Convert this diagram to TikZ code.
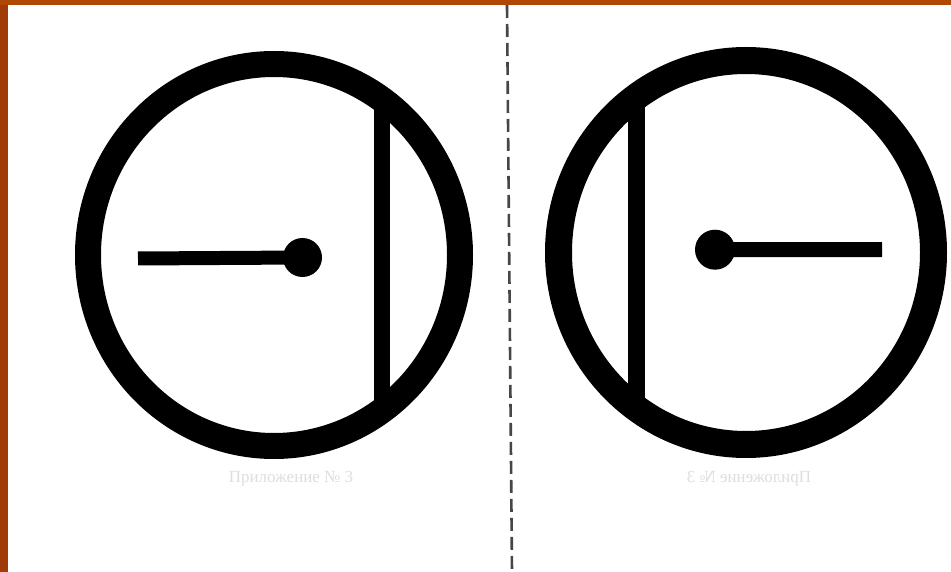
\documentclass[tikz,border=0pt]{standalone}
\usepackage{fontspec}
\setmainfont{Liberation Serif}
\usetikzlibrary{shapes.geometric}
\definecolor{frameL}{RGB}{160,58,6}
\definecolor{frameT}{RGB}{176,72,4}
\definecolor{dashcol}{RGB}{70,70,70}
\definecolor{ghost}{RGB}{222,222,222}
\tikzset{
  ring/.style={draw=black, ellipse, inner sep=0pt, fill=none},
  dotnode/.style={circle, fill=black, inner sep=0pt, minimum size=39pt},
  barline/.style={draw=black, line cap=butt},
  cutline/.style={draw=dashcol, line width=2.6pt, dash pattern=on 13pt off 6pt},
  ghosttext/.style={text=ghost, font=\fontsize{17}{17}\selectfont}
}
\begin{document}
\begin{tikzpicture}[x=1pt,y=-1pt]
\useasboundingbox (0,0) rectangle (951,572);
\fill[white] (0,0) rectangle (951,572);
% frame
\fill[frameL] (0,0) rectangle (8,572);
\fill[frameT] (0,0) rectangle (951,5);
% faint bleed-through labels
\node[ghosttext] (gl) at (291,479) {Приложение № 3};
\node[ghosttext, xscale=-1] (gr) at (749,479) {Приложение № 3};
% dashed cut line
\coordinate (dtop) at (507,5);
\coordinate (dbot) at (512,572);
\draw[cutline] (dtop) -- (dbot);
% left symbol
\node[ring, line width=26pt, minimum width=372pt, minimum height=382pt] (ringL) at (274,255) {};
\coordinate (bLt) at (381.5,99);
\coordinate (bLb) at (381.5,411);
\draw[barline, line width=16pt] (bLt) -- (bLb);
\node[dotnode] (dotL) at (302.5,257.5) {};
\coordinate (hL) at (138,258.5);
\draw[barline, line width=14pt] (hL) -- (dotL.center);
% right symbol
\node[ring, line width=27pt, minimum width=375pt, minimum height=384pt] (ringR) at (746,252.5) {};
\coordinate (bRt) at (636,97);
\coordinate (bRb) at (636,408);
\draw[barline, line width=17pt] (bRt) -- (bRb);
\node[dotnode, minimum size=40pt] (dotR) at (715,249.7) {};
\coordinate (hR) at (882,249.5);
\draw[barline, line width=15pt] (dotR.center) -- (hR);
\end{tikzpicture}
\end{document}
